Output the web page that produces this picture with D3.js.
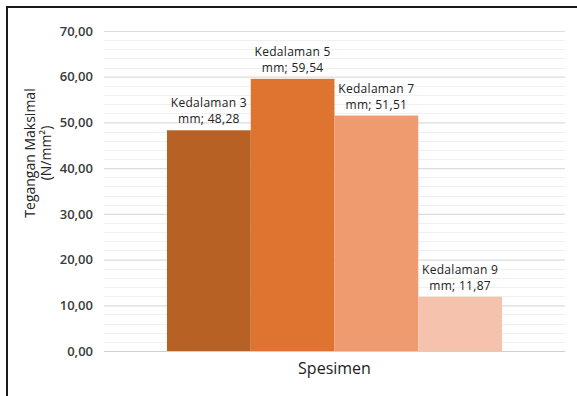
<!DOCTYPE html>
<html>
<head>
<meta charset="utf-8">
<script src="https://cdn.jsdelivr.net/npm/d3@7"></script>
<style>
  html, body { margin: 0; padding: 0; background: #fff; }
  svg { display: block; font-family: "Open Sans", "Noto Sans", sans-serif; }
</style>
</head>
<body>
<svg id="chart" width="577" height="396"></svg>
<script>
// Chart data
const categories = ["Spesimen"];
const seriesNames = ["Kedalaman 3 mm", "Kedalaman 5 mm", "Kedalaman 7 mm", "Kedalaman 9 mm"];
const seriesValues = [48.28, 59.54, 51.51, 11.87];
const seriesColors = ["#B86125", "#DD7530", "#F09A70", "#F5C2AE"];
const yTicks = [0, 10, 20, 30, 40, 50, 60, 70];
const yTitle = ["Tegangan Maksimal", "(N/mm²)"];

const svg = d3.select("#chart");
const W = 577, H = 396;
const plot = { left: 104, right: 565, top: 31, bottom: 351 };

const fmt = v => d3.format(".2f")(v).replace(".", ",");

// Frame: left and top edges of the outer border
svg.append("path")
  .attr("d", `M7,${H} L7,7 L${W},7`)
  .attr("fill", "none")
  .attr("stroke", "#1a1a1a")
  .attr("stroke-width", 2);

const y = d3.scaleLinear().domain([0, 70]).range([plot.bottom, plot.top]);

const x0 = d3.scaleBand().domain(categories)
  .range([plot.left, plot.right])
  .paddingInner(0).paddingOuter(0.188);
const x1 = d3.scaleBand().domain(seriesNames)
  .range([0, x0.bandwidth()]).padding(0);

// Minor gridlines every 2 units
const minor = d3.range(0, 71, 2).filter(v => v % 10 !== 0);
svg.append("g").selectAll("line").data(minor).join("line")
  .attr("x1", plot.left).attr("x2", plot.right)
  .attr("y1", d => Math.round(y(d)) + 0.5).attr("y2", d => Math.round(y(d)) + 0.5)
  .attr("stroke", "#f0f0f0").attr("stroke-width", 1);

// Major gridlines and tick labels from the y axis
const yAxis = d3.axisLeft(y).tickValues(yTicks).tickFormat(fmt)
  .tickSize(-(plot.right - plot.left)).tickPadding(11);
const gy = svg.append("g").attr("transform", `translate(${plot.left},0)`).call(yAxis);
gy.select(".domain").remove();
gy.selectAll(".tick line")
  .attr("stroke", d => d === 0 ? "#d0d0d0" : "#dcdcdc")
  .attr("stroke-width", 1.2);
gy.selectAll(".tick text")
  .attr("fill", "#3a3a3a")
  .attr("font-size", 13)
  .attr("font-weight", 600)
  .attr("font-family", "'Open Sans', sans-serif");

// Bars
const group = svg.append("g").selectAll("g").data(categories).join("g")
  .attr("transform", d => `translate(${x0(d)},0)`);

const barData = seriesNames.map((n, i) => ({ name: n, value: seriesValues[i], color: seriesColors[i] }));

group.selectAll("rect").data(barData).join("rect")
  .attr("x", d => x1(d.name))
  .attr("y", d => y(d.value))
  .attr("width", x1.bandwidth())
  .attr("height", d => y(0) - y(d.value))
  .attr("fill", d => d.color);

// Data labels: series name broken over two lines, then the value
const labels = group.selectAll("text.lbl").data(barData).join("text")
  .attr("class", "lbl")
  .attr("text-anchor", "middle")
  .attr("font-size", 12)
  .attr("letter-spacing", 0.3)
  .attr("fill", "#222")
  .attr("font-weight", 500);
labels.each(function(d) {
  const parts = d.name.split(" ");
  const line1 = parts[0] + " " + parts[1];
  const line2 = parts[2] + "; " + fmt(d.value);
  const cx = x1(d.name) + x1.bandwidth() / 2;
  const base = y(d.value) - 7;
  const t = d3.select(this);
  t.append("tspan").attr("x", cx).attr("y", base - 16).text(line1);
  t.append("tspan").attr("x", cx).attr("y", base).text(line2);
});

// X axis title
svg.append("text")
  .attr("x", (plot.left + plot.right) / 2)
  .attr("y", 374)
  .attr("text-anchor", "middle")
  .attr("font-size", 16)
  .attr("font-weight", 500)
  .attr("fill", "#222")
  .text("Spesimen");

// Y axis title (two lines, rotated)
const yt = svg.append("text")
  .attr("transform", "translate(0,153) rotate(-90)")
  .attr("text-anchor", "middle")
  .attr("font-size", 14)
  .attr("font-weight", 500)
  .attr("fill", "#222");
yt.append("tspan").attr("x", 0).attr("y", 35).text(yTitle[0]);
yt.append("tspan").attr("x", 0).attr("y", 51).text(yTitle[1]);
</script>
</body>
</html>
